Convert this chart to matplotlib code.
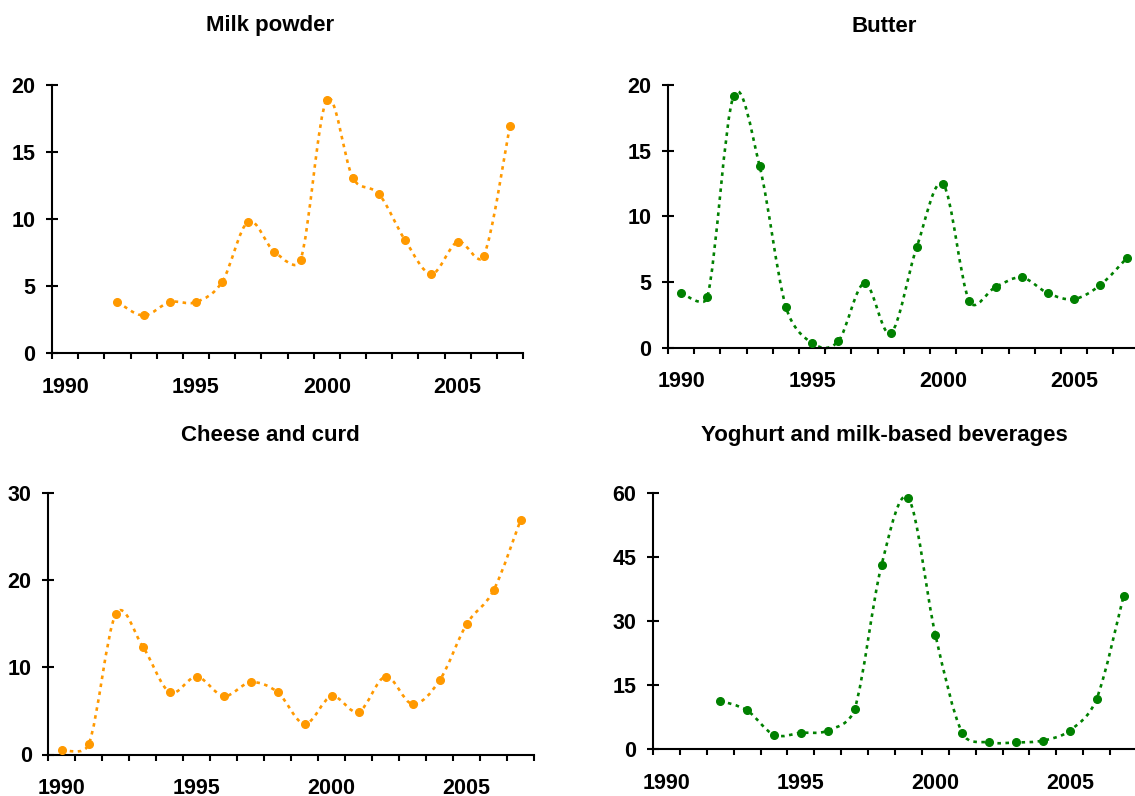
import matplotlib
matplotlib.use("Agg")
from matplotlib import pyplot as plt
from matplotlib.path import Path
from matplotlib.patches import PathPatch
from matplotlib.ticker import FixedLocator

plt.rcParams['font.family'] = ['Liberation Sans', 'DejaVu Sans']
plt.rcParams['font.weight'] = 'bold'

years = list(range(1990, 2008))

# values (None = no data)
milk_powder = [None, None, 3.8, 2.8, 3.8, 3.8, 5.3, 9.8, 7.55, 6.95,
               18.9, 13.05, 11.85, 8.4, 5.9, 8.3, 7.25, 16.95]
butter = [4.15, 3.85, 19.15, 13.8, 3.1, 0.35, 0.5, 4.92, 1.1, 7.7,
          12.45, 3.55, 4.62, 5.35, 4.15, 3.7, 4.77, 6.8]
cheese = [0.5, 1.2, 16.1, 12.4, 7.15, 8.95, 6.7, 8.3, 7.15, 3.5,
          6.7, 4.9, 8.95, 5.8, 8.5, 14.95, 18.85, 26.9]
yoghurt = [None, None, 11.4, 9.1, 3.4, 3.85, 4.4, 9.5, 43.2, 58.8,
           26.9, 3.85, 1.6, 1.6, 2.05, 4.4, 11.9, 35.9]

titles = ["Milk powder", "Butter", "Cheese and curd",
          "Yoghurt and milk-based beverages"]
ytick_sets = [[0, 5, 10, 15, 20], [0, 5, 10, 15, 20],
              [0, 10, 20, 30], [0, 15, 30, 45, 60]]
year_labels = [1990, 1995, 2000, 2005]

ORANGE = "#FF9900"
GREEN = "#008000"
colors = [ORANGE, GREEN, ORANGE, GREEN]
series = [milk_powder, butter, cheese, yoghurt]

W, H = 1135, 796
# axes boxes in pixels: left, right, top, bottom
boxes = [(52, 523, 85, 353), (668, 1139.6, 85, 347.7),
         (48.3, 534, 493.3, 754.5), (653, 1137, 493.3, 749.3)]
title_pos = [(270, 31.5), (884, 31.5), (270, 440.5), (884, 440.5)]


def dist(a, b, sx, sy):
    return (((a[0] - b[0]) * sx) ** 2 + ((a[1] - b[1]) * sy) ** 2) ** 0.5


def smooth_path(xs, ys, sx, sy):
    # excel style smoothed line (bezier, handles limited to half a segment)
    pts = list(zip(xs, ys))
    n = len(pts)
    verts = [pts[0]]
    codes = [Path.MOVETO]
    for i in range(n - 1):
        p0 = pts[i - 1] if i > 0 else pts[i]
        p1 = pts[i]
        p2 = pts[i + 1]
        p3 = pts[i + 2] if i + 2 < n else pts[i + 1]
        d12 = dist(p1, p2, sx, sy)
        d02 = dist(p0, p2, sx, sy)
        d13 = dist(p1, p3, sx, sy)
        f1 = 1 / 6
        f2 = 1 / 6
        if d02 / 6 >= d12 / 2 and d02 > 0:
            f1 = d12 / d02 / 2
        if d13 / 6 >= d12 / 2 and d13 > 0:
            f2 = d12 / d13 / 2
        c1 = (p1[0] + (p2[0] - p0[0]) * f1, p1[1] + (p2[1] - p0[1]) * f1)
        c2 = (p2[0] - (p3[0] - p1[0]) * f2, p2[1] - (p3[1] - p1[1]) * f2)
        verts += [c1, c2, p2]
        codes += [Path.CURVE4] * 3
    return Path(verts, codes)


fig = plt.figure(figsize=(W / 100, H / 100), dpi=100)

for k in range(4):
    l, r, t, b = boxes[k]
    ax = fig.add_axes([l / W, 1 - b / H, (r - l) / W, (b - t) / H])
    xs = [y for y, v in zip(years, series[k]) if v is not None]
    vs = [v for v in series[k] if v is not None]
    ymax = ytick_sets[k][-1]
    sx = (r - l) / 18
    sy = (b - t) / ymax

    patch = PathPatch(smooth_path(xs, vs, sx, sy), fill=False,
                      edgecolor=colors[k], lw=1.9,
                      linestyle=(0, (1.35, 1.7)), capstyle='butt',
                      clip_on=False)
    ax.add_patch(patch)
    ax.plot(xs, vs, 'o', color=colors[k], markersize=5.5, clip_on=False,
            zorder=3)

    ax.set_xlim(1989.5, 2007.5)
    ax.set_ylim(0, ymax)
    ax.set_yticks(ytick_sets[k])
    ax.set_xticks(year_labels)
    ax.set_xticklabels([str(y) for y in year_labels])
    ax.xaxis.set_minor_locator(FixedLocator([x + 0.5 for x in range(1989, 2008)]))

    for s in ['top', 'right']:
        ax.spines[s].set_visible(False)
    for s in ['left', 'bottom']:
        ax.spines[s].set_linewidth(1.5)
        ax.spines[s].set_color('black')

    ax.tick_params(axis='x', which='major', length=0, pad=17,
                   labelsize=15.5)
    ax.tick_params(axis='x', which='minor', length=4.5, width=1.5,
                   direction='out')
    ax.tick_params(axis='y', which='major', length=9, width=1.5,
                   direction='inout', pad=7.5, labelsize=15.5)
    for lab in ax.get_xticklabels() + ax.get_yticklabels():
        lab.set_fontweight('bold')

    tx, ty = title_pos[k]
    fig.text(tx / W, 1 - ty / H, titles[k], ha='center', va='baseline',
             fontsize=16, fontweight='bold')

plt.savefig("out.png", dpi=100)
